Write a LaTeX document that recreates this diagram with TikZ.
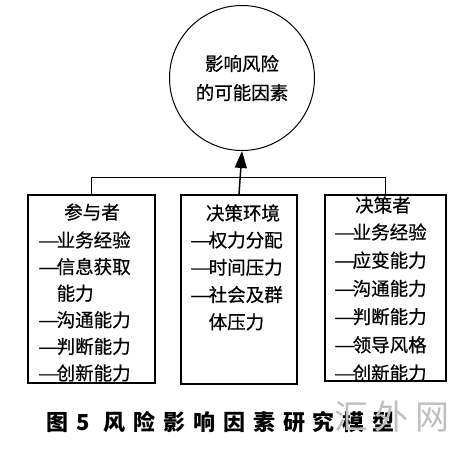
\documentclass[tikz,border=0pt]{standalone}
\usepackage{fontspec}
\usepackage{graphicx}
\usepackage{tikz}
\usetikzlibrary{arrows.meta}
\newfontfamily\cjk[FakeBold=0.6]{Noto Sans CJK SC}
\newfontfamily\capfont[LetterSpace=36]{Noto Sans CJK SC}
\newfontfamily\markfont[LetterSpace=20]{Noto Sans CJK SC}
\newcommand\lead{\makebox[18.5pt][l]{\scalebox{1.3}[1]{—}}}

\begin{document}
\begin{tikzpicture}[x=1pt,y=1pt,
	box/.style={draw,line width=1.5pt,inner sep=0pt},
	head/.style={font=\cjk\fontsize{18.5}{20}\selectfont,inner sep=0pt},
	item/.style={font=\cjk\fontsize{18.5}{20}\selectfont,anchor=west,inner sep=0pt}]
		\useasboundingbox (0,0) rectangle (462,-449);
		% the three groups of factors
		\node[box,minimum width=127pt,minimum height=188pt] (partbox) at (91.5,-289) {};
		\node[box,minimum width=116pt,minimum height=189pt] (envbox) at (239,-289.5) {};
		\node[box,minimum width=121pt,minimum height=186pt] (makerbox) at (385.5,-288) {};

		\node[head] (parthead) at (92,-212) {参与者};
		\foreach \t [count=\i] in {\lead 业务经验,\lead 信息获取,\hspace*{18.5pt}能力,\lead 沟通能力,\lead 判断能力,\lead 创新能力}
		\node[item] (part\i) at (38,{-240-26.6*(\i-1)}) {\t};
		\node[head] (envhead) at (243,-213) {决策环境};
		\foreach \t [count=\i] in {\lead 权力分配,\lead 时间压力,\lead 社会及群,\hspace*{18.5pt}体压力}
		\node[item] (env\i) at (190,{-240-27.3*(\i-1)}) {\t};
		\node[head] (makerhead) at (383,-205) {决策者};
		\foreach \t [count=\i] in {\lead 业务经验,\lead 应变能力,\lead 沟通能力,\lead 判断能力,\lead 领导风格,\lead 创新能力}
		\node[item] (maker\i) at (334,{-232-28.2*(\i-1)}) {\t};

		% the goal
		\node[draw,circle,line width=1pt,minimum size=145pt,inner sep=0pt,
			font=\cjk\fontsize{18.5}{29}\selectfont,align=center] (factor) at (242,-78) {影响风险\\的可能因素};

		\draw[line width=1.5pt] (partbox.north) -- ++(0,17) -| (makerbox.north);
		\draw[line width=1.5pt,-{Triangle[length=17pt,width=12pt]}] (envbox.north) -- (factor.south);

		\node[font=\capfont\bfseries\fontsize{22}{24}\selectfont,anchor=west,inner sep=0pt] (caption) at (46,-422) {图5\hspace{14pt}风险影响因素研究模型};
		\node[font=\markfont\fontsize{34}{36}\selectfont,text=black!25,inner sep=0pt] (mark) at (392,-417) {汇外网};
	    \end{tikzpicture}
\end{document}
